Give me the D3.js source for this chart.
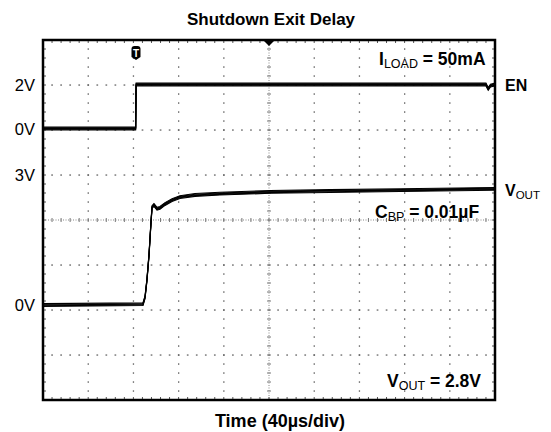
<!DOCTYPE html>
<html><head><meta charset="utf-8">
<script src="https://cdn.jsdelivr.net/npm/d3@7"></script>
<style>body{margin:0;background:#fff}svg{display:block}</style>
</head><body><svg id="c" width="551" height="432"></svg>
<script>
// ---- data ----
const timeDomain = [0, 400];            // µs, 10 div x 40 µs/div
const timeDivisions = d3.range(0, 401, 40);
const divisions = d3.range(0, 9);        // 8 vertical divisions
const enTime  = [0, 82.0, 82.4, 392, 394, 396, 400];
const enVolts = [0, 0,    2.0,  2.0, 1.8, 1.95, 2.0];
const voutTime  = [0, 88.5, 90.3, 92, 93.8, 95.6, 96.5, 98.2, 100.9, 103.5, 108, 114.2, 121.2, 134.5, 156.6, 200.9, 254, 316, 400];
const voutVolts = [0, 0.02, 0.18, 0.58, 1.15, 1.92, 2.26, 2.31, 2.22, 2.24, 2.33, 2.42, 2.49, 2.54, 2.57, 2.61, 2.63, 2.65, 2.68];
const enTickValues = [0, 2],   enTickLabels = ["0V", "2V"];
const voutTickValues = [0, 3], voutTickLabels = ["0V", "3V"];
const triggerTime = 82.3;

// ---- layout ----
const L = 43, R = 495, T = 40, B = 400;
const svg = d3.select("#c");
const font = "'Liberation Sans', Arial, sans-serif";

const x = d3.scaleLinear().domain(timeDomain).range([L, R]);
const yDiv = d3.scaleLinear().domain([0, 8]).range([B, T]);
const yEN = d3.scaleLinear().domain([0, 2]).range([128.5, 84.5]);
const yV = d3.scaleLinear().domain([0, 3]).range([305, 175]);

const grid = svg.append("g");
// dotted grid: dots at each sub-division along each major line
const sub = d3.range(0, 8 * 5 + 1).map(i => i / 5);
const subX = d3.range(0, 10 * 5 + 1).map(i => i * 8);
timeDivisions.slice(1, -1).forEach(t => {
  if (t === 200) return;
  grid.selectAll(null).data(sub.slice(1, -1)).join("rect")
    .attr("x", x(t) - 0.6).attr("y", d => yDiv(d) - 0.7).attr("width", 1.3).attr("height", 1.5).attr("fill", "#666");
});
divisions.slice(1, -1).forEach(dv => {
  if (dv === 4) return;
  grid.selectAll(null).data(subX.slice(1, -1)).join("rect")
    .attr("x", d => x(d) - 0.8).attr("y", yDiv(dv) - 0.6).attr("width", 1.7).attr("height", 1.3).attr("fill", "#666");
});
// center cross
grid.append("line").attr("x1", x(200)).attr("x2", x(200)).attr("y1", T).attr("y2", B)
  .attr("stroke", "#888").attr("stroke-width", 1).attr("stroke-dasharray", "1,1.5");
grid.append("line").attr("x1", L).attr("x2", R).attr("y1", yDiv(4)).attr("y2", yDiv(4))
  .attr("stroke", "#888").attr("stroke-width", 1).attr("stroke-dasharray", "1,1.5");
grid.selectAll(null).data(sub.slice(1, -1)).join("line")
  .attr("x1", x(200) - 2).attr("x2", x(200) + 2).attr("y1", d => yDiv(d)).attr("y2", d => yDiv(d))
  .attr("stroke", "#777").attr("stroke-width", 1);
grid.selectAll(null).data(subX.slice(1, -1)).join("line")
  .attr("y1", yDiv(4) - 2).attr("y2", yDiv(4) + 2).attr("x1", d => x(d)).attr("x2", d => x(d))
  .attr("stroke", "#777").attr("stroke-width", 1);
// border ticks
grid.selectAll(null).data(subX.slice(1, -1)).join("line")
  .attr("x1", d => x(d)).attr("x2", d => x(d)).attr("y1", T).attr("y2", T + 3)
  .attr("stroke", "#555").attr("stroke-width", 1);
grid.selectAll(null).data(subX.slice(1, -1)).join("line")
  .attr("x1", d => x(d)).attr("x2", d => x(d)).attr("y1", B).attr("y2", B - 3)
  .attr("stroke", "#555").attr("stroke-width", 1);
grid.selectAll(null).data(sub.slice(1, -1)).join("line")
  .attr("x1", L).attr("x2", L + 3).attr("y1", d => yDiv(d)).attr("y2", d => yDiv(d))
  .attr("stroke", "#555").attr("stroke-width", 1);
grid.selectAll(null).data(sub.slice(1, -1)).join("line")
  .attr("x1", R).attr("x2", R - 3).attr("y1", d => yDiv(d)).attr("y2", d => yDiv(d))
  .attr("stroke", "#555").attr("stroke-width", 1);

// ---- traces ----
function trace(times, vals, yScale) {
  const pts = times.map((t, i) => [t, vals[i]]);
  const g = svg.append("g");
  [-1.4, -0.7, 0, 0.7, 1.4].forEach(dy => {
    g.append("path").datum(pts)
      .attr("d", d3.line().x(d => x(d[0])).y(d => yScale(d[1]) + dy))
      .attr("fill", "none").attr("stroke", "#000").attr("stroke-width", 1.1);
  });
}
trace(enTime, enVolts, yEN);
trace(voutTime, voutVolts, yV);

// border
svg.append("rect").attr("x", L).attr("y", T).attr("width", R - L).attr("height", B - T)
  .attr("fill", "none").attr("stroke", "#000").attr("stroke-width", 2.5);

// trigger marker and center pointer
const tx = x(triggerTime);
svg.append("path").attr("d", `M${tx-4.5},${49} Q${tx-4.5},${46} ${tx-1.5},${46} L${tx+1.5},${46} Q${tx+4.5},${46} ${tx+4.5},${49} L${tx+4.5},${57} L${tx},${60} L${tx-4.5},${57} Z`).attr("fill", "#000");
svg.append("text").attr("x", tx).attr("y", 56.5).attr("text-anchor", "middle")
  .attr("font-family", font).attr("font-weight", "bold").attr("font-size", 10).attr("fill", "#fff").text("T");
const cx = x(200);
svg.append("path").attr("d", `M${cx-6},${T} L${cx+6},${T} L${cx},${T+6} Z`).attr("fill", "#000");

// ---- texts ----
svg.append("text").attr("x", 271).attr("y", 25).attr("text-anchor", "middle")
  .attr("font-family", font).attr("font-weight", "bold").attr("font-size", 17).text("Shutdown Exit Delay");
svg.append("text").attr("x", 280).attr("y", 427).attr("text-anchor", "middle")
  .attr("font-family", font).attr("font-weight", "bold").attr("font-size", 18).text("Time (40µs/div)");

function leftLabels(vals, labels, yScale) {
  svg.selectAll(null).data(vals).join("text")
    .attr("x", 35).attr("y", d => yScale(d) + 6).attr("text-anchor", "end")
    .attr("font-family", font).attr("font-size", 16.5).attr("fill", "#000")
    .text((d, i) => labels[i]);
}
leftLabels(enTickValues, enTickLabels, yEN);
leftLabels(voutTickValues, voutTickLabels, yV);

function subText(xp, yp, main, subs, rest, size, subSize) {
  const t = svg.append("text").attr("x", xp).attr("y", yp)
    .attr("font-family", font).attr("font-weight", "bold").attr("font-size", size);
  t.append("tspan").text(main);
  t.append("tspan").attr("font-size", subSize).attr("dy", 3).attr("font-weight", "normal").text(subs);
  if (rest) t.append("tspan").attr("dy", -3).text(rest);
  return t;
}
subText(379, 65, "I", "LOAD", " = 50mA", 17.5, 12.5);
svg.append("text").attr("x", 505).attr("y", yEN(2) + 6).attr("font-family", font)
  .attr("font-weight", "bold").attr("font-size", 16).text("EN");
subText(505, yV(voutVolts[voutVolts.length - 1]) + 7, "V", "OUT", null, 16, 11.5);
subText(375, 218, "C", "BP", " = 0.01µF", 17.5, 12.5);
subText(387, 387, "V", "OUT", " = 2.8V", 17.5, 12.5);
</script></body></html>
